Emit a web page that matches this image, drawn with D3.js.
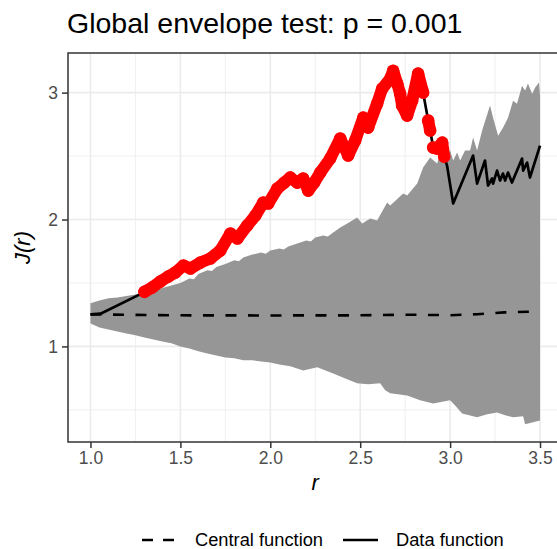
<!DOCTYPE html>
<html>
<head>
<meta charset="utf-8">
<script src="https://cdn.jsdelivr.net/npm/d3@7"></script>
<style>
  body { margin: 0; background: #fff; }
  text { font-family: "Liberation Sans", Arial, sans-serif; }
</style>
</head>
<body>
<script>
// Data

let dataR = [1.000, 1.056, 1.289, 1.300, 1.344, 1.389, 1.433, 1.472, 1.517, 1.556,
  1.611, 1.667, 1.722, 1.778, 1.817, 1.872, 1.917, 1.961, 1.989, 2.039,
  2.078, 2.111, 2.150, 2.183, 2.211, 2.244, 2.278, 2.333, 2.389, 2.433,
  2.472, 2.517, 2.544, 2.594, 2.622, 2.667, 2.683, 2.706, 2.722, 2.733,
  2.761, 2.789, 2.822, 2.850, 2.878, 2.889, 2.906, 2.928, 2.956, 2.967,
  2.983, 3.017, 3.128, 3.150, 3.194, 3.211, 3.233, 3.239, 3.261, 3.278,
  3.294, 3.306, 3.322, 3.344, 3.400, 3.406, 3.428, 3.444, 3.500]
let dataJ = [1.252, 1.258, 1.420, 1.430, 1.465, 1.512, 1.551, 1.583, 1.638, 1.614,
  1.661, 1.693, 1.756, 1.890, 1.850, 1.953, 2.031, 2.134, 2.126, 2.244,
  2.291, 2.331, 2.291, 2.323, 2.228, 2.291, 2.370, 2.480, 2.638, 2.504,
  2.622, 2.803, 2.724, 2.913, 3.031, 3.110, 3.173, 3.071, 2.992, 2.898,
  2.819, 2.937, 3.150, 3.000, 2.780, 2.701, 2.567, 2.559, 2.606, 2.496,
  2.425, 2.126, 2.504, 2.283, 2.465, 2.268, 2.323, 2.283, 2.386, 2.307,
  2.362, 2.307, 2.370, 2.291, 2.480, 2.386, 2.449, 2.331, 2.583]

// r ranges where the data function leaves the envelope (red points)
let redRuns = [[1.300, 2.850], [2.878, 2.889], [2.906, 2.967]]

let centralR = [1.0, 1.5, 2.0, 2.5, 2.75, 3.0, 3.15, 3.3, 3.5]
let centralJ = [1.252, 1.245, 1.244, 1.245, 1.250, 1.246, 1.254, 1.268, 1.276]

let hiR = [1.00, 1.05, 1.10, 1.15, 1.20, 1.25, 1.30, 1.35, 1.40, 1.45,
  1.50, 1.55, 1.575, 1.60, 1.65, 1.675, 1.70, 1.75, 1.80, 1.825, 1.85, 1.90, 1.95,
  1.975, 2.00, 2.05, 2.075, 2.10, 2.15, 2.20, 2.225, 2.25, 2.294, 2.320, 2.350, 2.389, 2.428,
  2.483, 2.511, 2.556, 2.594, 2.650, 2.667, 2.739, 2.761, 2.817, 2.850,
  2.889, 2.928, 2.944, 2.972, 3.000, 3.017, 3.039, 3.056, 3.083, 3.111,
  3.128, 3.150, 3.178, 3.222, 3.239, 3.267, 3.294, 3.322, 3.350, 3.372,
  3.400, 3.417, 3.433, 3.456, 3.472, 3.494, 3.500]
let hiJ = [1.340, 1.362, 1.380, 1.386, 1.398, 1.410, 1.420, 1.440, 1.460, 1.480,
  1.500, 1.535, 1.530, 1.570, 1.600, 1.595, 1.625, 1.650, 1.680, 1.672, 1.701, 1.724, 1.740,
  1.730, 1.756, 1.772, 1.764, 1.787, 1.811, 1.835, 1.826, 1.858, 1.874, 1.866, 1.898, 1.937, 1.969,
  2.016, 1.969, 2.008, 1.992, 2.134, 2.110, 2.205, 2.189, 2.283, 2.409,
  2.488, 2.441, 2.520, 2.488, 2.543, 2.465, 2.528, 2.465, 2.543, 2.543,
  2.646, 2.543, 2.701, 2.898, 2.803, 2.661, 2.724, 2.803, 2.937, 2.913,
  3.055, 3.016, 3.071, 2.992, 3.039, 3.079, 2.976]

let loR = [1.00, 1.05, 1.10, 1.15, 1.20, 1.25, 1.30, 1.35, 1.40, 1.45,
  1.50, 1.55, 1.60, 1.65, 1.70, 1.75, 1.80, 1.85, 1.90, 1.95,
  2.00, 2.05, 2.111, 2.183, 2.261, 2.350, 2.417, 2.483, 2.544, 2.611,
  2.639, 2.667, 2.761, 2.833, 2.906, 3.000, 3.028, 3.067, 3.150, 3.206,
  3.261, 3.306, 3.350, 3.406, 3.417, 3.500]
let loJ = [1.181, 1.150, 1.134, 1.118, 1.102, 1.087, 1.071, 1.055, 1.039, 1.024,
  1.000, 0.984, 0.961, 0.945, 0.929, 0.913, 0.906, 0.890, 0.890, 0.882,
  0.874, 0.858, 0.843, 0.811, 0.835, 0.787, 0.748, 0.709, 0.701, 0.709,
  0.654, 0.630, 0.614, 0.575, 0.551, 0.575, 0.535, 0.472, 0.441, 0.465,
  0.480, 0.457, 0.441, 0.449, 0.386, 0.417]

let xTicks = [1.0, 1.5, 2.0, 2.5, 3.0, 3.5]
let yTicks = [1, 2, 3]
let yMinor = [0.5, 1.5, 2.5]

// Sizing

let width = 557
let height = 549

let panel = { left: 68, top: 53, bottom: 442 }

let svg = d3.select('body')
    .append('svg')
    .attr('width', width)
    .attr('height', height)

// ggplot-like 5% expansion
let xMin = 1.0, xMax = 3.5
let xPad = (xMax - xMin) * 0.05
let yMin = d3.min(loJ.concat(dataJ)), yMax = d3.max(hiJ.concat(dataJ))
let yPad = (yMax - yMin) * 0.05

let xScale = d3.scaleLinear()
    .domain([xMin - xPad, xMax + xPad])
    .range([panel.left, panel.left + 494.5])

let yScale = d3.scaleLinear()
    .domain([yMin - yPad, yMax + yPad])
    .range([panel.bottom, panel.top])

let pRight = xScale.range()[1]

svg.append('defs').append('clipPath').attr('id', 'clip')
    .append('rect')
    .attr('x', panel.left).attr('y', panel.top)
    .attr('width', pRight - panel.left).attr('height', panel.bottom - panel.top)

// Grid lines
let grid = svg.append('g')

grid.selectAll('.xminor').data(xTicks.slice(0, -1).map(d => d + 0.25)).join('line')
    .attr('x1', d => xScale(d)).attr('x2', d => xScale(d))
    .attr('y1', panel.top).attr('y2', panel.bottom)
    .attr('stroke', '#EBEBEB').attr('stroke-width', 0.8)
grid.selectAll('.yminor').data(yMinor).join('line')
    .attr('x1', panel.left).attr('x2', pRight)
    .attr('y1', d => yScale(d)).attr('y2', d => yScale(d))
    .attr('stroke', '#EBEBEB').attr('stroke-width', 0.8)
grid.selectAll('.xmajor').data(xTicks).join('line')
    .attr('x1', d => xScale(d)).attr('x2', d => xScale(d))
    .attr('y1', panel.top).attr('y2', panel.bottom)
    .attr('stroke', '#EBEBEB').attr('stroke-width', 1.6)
grid.selectAll('.ymajor').data(yTicks).join('line')
    .attr('x1', panel.left).attr('x2', pRight)
    .attr('y1', d => yScale(d)).attr('y2', d => yScale(d))
    .attr('stroke', '#EBEBEB').attr('stroke-width', 1.6)

let plot = svg.append('g').attr('clip-path', 'url(#clip)')

// Envelope
let hiPts = hiR.map((r, i) => [r, hiJ[i]])
let loPts = loR.map((r, i) => [r, loJ[i]]).reverse()
let poly = d3.line().x(d => xScale(d[0])).y(d => yScale(d[1]))
plot.append('path')
    .attr('d', poly(hiPts.concat(loPts)) + 'Z')
    .attr('fill', '#969696')

// Central function
plot.append('path')
    .datum(centralR.map((r, i) => [r, centralJ[i]]))
    .attr('d', poly)
    .attr('fill', 'none')
    .attr('stroke', 'black')
    .attr('stroke-width', 2.6)
    .attr('stroke-dasharray', '11,11.5')

// Data function
let dataPts = dataR.map((r, i) => [r, dataJ[i]])
plot.append('path')
    .datum(dataPts)
    .attr('d', poly)
    .attr('fill', 'none')
    .attr('stroke', 'black')
    .attr('stroke-width', 2.7)
    .attr('stroke-linejoin', 'round')

// Red points outside the envelope
redRuns.forEach(run => {
    let pts = dataPts.filter(d => d[0] >= run[0] - 1e-9 && d[0] <= run[1] + 1e-9)
    plot.append('path')
        .datum(pts)
        .attr('d', poly)
        .attr('fill', 'none')
        .attr('stroke', 'red')
        .attr('stroke-width', 12)
        .attr('stroke-linejoin', 'round')
        .attr('stroke-linecap', 'round')
    plot.selectAll(null).data(pts).join('circle')
        .attr('cx', d => xScale(d[0]))
        .attr('cy', d => yScale(d[1]))
        .attr('r', 6.3)
        .attr('fill', 'red')
})

// Panel border
svg.append('rect')
    .attr('x', panel.left).attr('y', panel.top)
    .attr('width', pRight - panel.left + 5).attr('height', panel.bottom - panel.top)
    .attr('fill', 'none').attr('stroke', '#333333').attr('stroke-width', 1.5)

// Axes
let xAxis = svg.append('g')
    .attr('transform', `translate(0, ${panel.bottom})`)
    .call(d3.axisBottom(xScale).tickValues(xTicks).tickFormat(d3.format('.1f')).tickSizeOuter(0).tickSize(6).tickPadding(4))
let yAxis = svg.append('g')
    .attr('transform', `translate(${panel.left}, 0)`)
    .call(d3.axisLeft(yScale).tickValues(yTicks).tickFormat(d3.format('d')).tickSizeOuter(0).tickSize(6).tickPadding(4))

;[xAxis, yAxis].forEach(a => {
    a.select('.domain').remove()
    a.selectAll('.tick line').attr('stroke', '#333333').attr('stroke-width', 1.5)
    a.selectAll('.tick text')
        .attr('fill', '#4D4D4D')
        .style('font-size', '17.5px')
        .style('font-family', '"Liberation Sans", Arial, sans-serif')
})

// Titles
svg.append('text')
    .attr('x', 67).attr('y', 33)
    .style('font-size', '28.5px')
    .text('Global envelope test: p = 0.001')

svg.append('text')
    .attr('x', xScale((xMin + xMax) / 2)).attr('y', 490)
    .attr('text-anchor', 'middle')
    .style('font-size', '22px').style('font-style', 'italic')
    .text('r')

svg.append('text')
    .attr('transform', `translate(30, ${(panel.top + panel.bottom) / 2}) rotate(-90)`)
    .attr('text-anchor', 'middle')
    .style('font-size', '22px').style('font-style', 'italic')
    .text('J(r)')

// Legend
let legend = svg.append('g')
legend.append('line')
    .attr('x1', 142).attr('x2', 175).attr('y1', 540).attr('y2', 540)
    .attr('stroke', 'black').attr('stroke-width', 2.6).attr('stroke-dasharray', '11,10')
legend.append('text')
    .attr('x', 195).attr('y', 546)
    .style('font-size', '18.3px')
    .text('Central function')
legend.append('line')
    .attr('x1', 343).attr('x2', 378).attr('y1', 540).attr('y2', 540)
    .attr('stroke', 'black').attr('stroke-width', 2.6)
legend.append('text')
    .attr('x', 396).attr('y', 546)
    .style('font-size', '18.3px')
    .text('Data function')
</script>
</body>
</html>
